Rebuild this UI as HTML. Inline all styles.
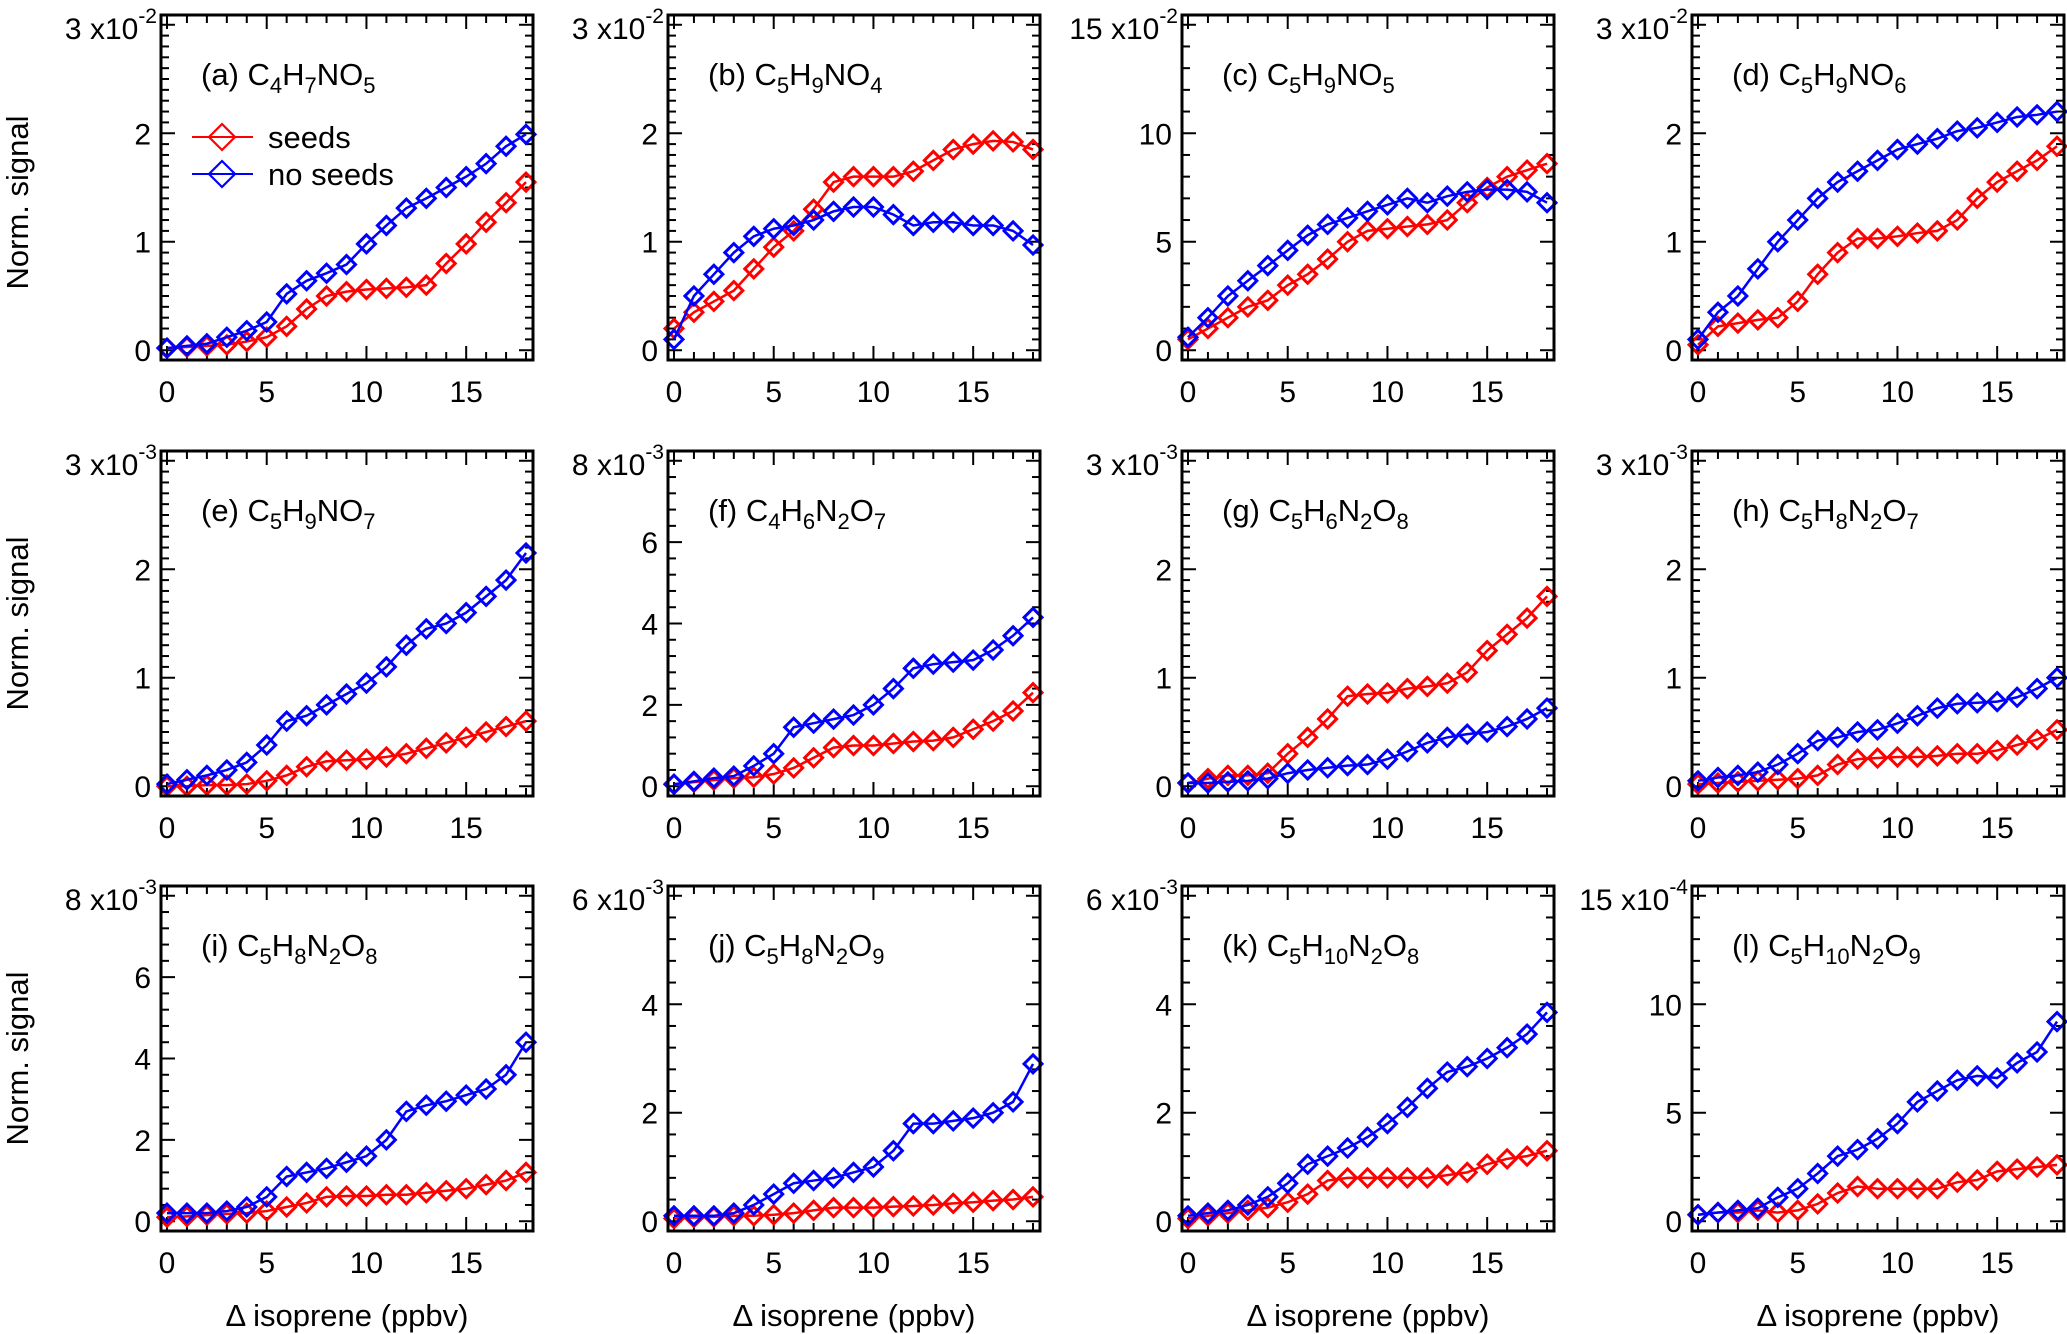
<!DOCTYPE html>
<html><head><meta charset="utf-8"><style>
body{margin:0;background:#fff;}
svg{display:block;font-family:"Liberation Sans",Arial,sans-serif;}
</style></head><body>
<svg id="fig" width="2067" height="1334" viewBox="0 0 2067 1334"></svg>
<script>
const xs = [0,1,2,3,4,5,6,7,8,9,10,11,12,13,14,15,16,17,18];
const xTicks = [0,5,10,15];
const titles = [
 ['a',[['C',''],['4','s'],['H',''],['7','s'],['NO',''],['5','s']]],
 ['b',[['C',''],['5','s'],['H',''],['9','s'],['NO',''],['4','s']]],
 ['c',[['C',''],['5','s'],['H',''],['9','s'],['NO',''],['5','s']]],
 ['d',[['C',''],['5','s'],['H',''],['9','s'],['NO',''],['6','s']]],
 ['e',[['C',''],['5','s'],['H',''],['9','s'],['NO',''],['7','s']]],
 ['f',[['C',''],['4','s'],['H',''],['6','s'],['N',''],['2','s'],['O',''],['7','s']]],
 ['g',[['C',''],['5','s'],['H',''],['6','s'],['N',''],['2','s'],['O',''],['8','s']]],
 ['h',[['C',''],['5','s'],['H',''],['8','s'],['N',''],['2','s'],['O',''],['7','s']]],
 ['i',[['C',''],['5','s'],['H',''],['8','s'],['N',''],['2','s'],['O',''],['8','s']]],
 ['j',[['C',''],['5','s'],['H',''],['8','s'],['N',''],['2','s'],['O',''],['9','s']]],
 ['k',[['C',''],['5','s'],['H',''],['10','s'],['N',''],['2','s'],['O',''],['8','s']]],
 ['l',[['C',''],['5','s'],['H',''],['10','s'],['N',''],['2','s'],['O',''],['9','s']]]
];
const yMax = [3,3,15,3, 3,8,3,3, 8,6,6,15];
const yExp = ['-2','-2','-2','-2','-3','-3','-3','-3','-3','-3','-3','-4'];
const yMajor = [1,1,5,1, 1,2,1,1, 2,2,2,5];
const seeds = [
 [0.02,0.03,0.04,0.05,0.08,0.12,0.22,0.38,0.5,0.54,0.56,0.57,0.58,0.6,0.8,0.98,1.18,1.36,1.55],
 [0.2,0.35,0.45,0.55,0.75,0.95,1.1,1.3,1.55,1.6,1.6,1.6,1.65,1.75,1.85,1.9,1.93,1.92,1.85],
 [0.5,1.0,1.5,2.0,2.3,3.0,3.5,4.2,5.0,5.5,5.6,5.7,5.8,6.0,6.8,7.5,8.0,8.3,8.6],
 [0.05,0.22,0.25,0.28,0.3,0.45,0.7,0.9,1.03,1.03,1.05,1.08,1.1,1.2,1.4,1.55,1.65,1.75,1.88],
 [0,0,0.01,0.01,0.02,0.05,0.1,0.18,0.23,0.24,0.25,0.27,0.3,0.35,0.4,0.45,0.5,0.55,0.6],
 [0.05,0.1,0.15,0.2,0.22,0.3,0.45,0.7,0.95,1.0,1.0,1.05,1.1,1.12,1.2,1.4,1.6,1.85,2.3],
 [0.03,0.07,0.1,0.1,0.12,0.3,0.45,0.62,0.83,0.85,0.86,0.9,0.92,0.95,1.05,1.25,1.4,1.55,1.75],
 [0.02,0.03,0.04,0.05,0.06,0.07,0.1,0.2,0.25,0.26,0.27,0.27,0.28,0.3,0.3,0.33,0.38,0.43,0.52],
 [0.1,0.12,0.15,0.18,0.2,0.25,0.35,0.45,0.6,0.62,0.62,0.65,0.65,0.7,0.75,0.8,0.9,1.0,1.2],
 [0.05,0.07,0.08,0.1,0.1,0.12,0.15,0.2,0.25,0.25,0.25,0.27,0.28,0.3,0.33,0.35,0.38,0.4,0.45],
 [0.05,0.1,0.15,0.2,0.25,0.35,0.5,0.75,0.8,0.8,0.8,0.8,0.8,0.85,0.9,1.05,1.15,1.2,1.3],
 [0.3,0.4,0.4,0.5,0.4,0.5,0.8,1.3,1.6,1.5,1.5,1.5,1.5,1.8,1.9,2.3,2.4,2.5,2.6]
];
const noSeeds = [
 [0.02,0.04,0.06,0.12,0.18,0.26,0.52,0.64,0.71,0.79,0.98,1.15,1.31,1.4,1.5,1.6,1.72,1.88,1.99],
 [0.1,0.5,0.7,0.9,1.05,1.12,1.15,1.2,1.28,1.32,1.32,1.25,1.15,1.18,1.18,1.15,1.15,1.1,0.97],
 [0.6,1.5,2.5,3.2,3.9,4.6,5.3,5.8,6.1,6.4,6.7,7.0,6.8,7.1,7.3,7.4,7.4,7.3,6.8],
 [0.1,0.35,0.5,0.75,1.0,1.2,1.4,1.55,1.65,1.75,1.85,1.9,1.95,2.02,2.05,2.1,2.15,2.17,2.2],
 [0.02,0.06,0.1,0.15,0.22,0.38,0.6,0.65,0.75,0.85,0.95,1.1,1.3,1.45,1.5,1.6,1.75,1.9,2.15],
 [0.05,0.12,0.2,0.25,0.5,0.8,1.45,1.55,1.65,1.75,2.0,2.4,2.9,3.0,3.05,3.1,3.35,3.7,4.15],
 [0.03,0.03,0.04,0.05,0.07,0.12,0.15,0.17,0.19,0.2,0.25,0.32,0.4,0.45,0.48,0.5,0.55,0.62,0.72],
 [0.05,0.08,0.1,0.13,0.2,0.3,0.42,0.45,0.5,0.52,0.58,0.65,0.72,0.76,0.77,0.78,0.82,0.9,1.0],
 [0.2,0.2,0.2,0.25,0.35,0.6,1.1,1.2,1.3,1.45,1.6,2.0,2.7,2.85,2.95,3.1,3.25,3.6,4.4],
 [0.1,0.1,0.1,0.15,0.3,0.5,0.7,0.75,0.8,0.9,1.0,1.3,1.8,1.8,1.85,1.9,2.0,2.2,2.9],
 [0.1,0.15,0.2,0.3,0.45,0.7,1.05,1.2,1.35,1.55,1.8,2.1,2.45,2.75,2.85,3.0,3.2,3.45,3.85],
 [0.3,0.4,0.5,0.6,1.1,1.5,2.2,3.0,3.3,3.8,4.5,5.5,6.0,6.5,6.7,6.6,7.3,7.8,9.2]
];
const colLeft = [161,668,1182,1692];
const rowTop = [15,451,886];
const PW = 372, PH = 345;
const NS = 'http://www.w3.org/2000/svg';
const svg = document.getElementById('fig');
function mk(tag, attrs, parent){
  const e = document.createElementNS(NS, tag);
  for (const k in attrs) e.setAttribute(k, attrs[k]);
  (parent||svg).appendChild(e);
  return e;
}
function diamond(g, x, y, r, color, w){
  return mk('path',{d:`M${x-r},${y}L${x},${y-r}L${x+r},${y}L${x},${y+r}Z`,fill:'none',stroke:color,'stroke-width':w||2.2},g);
}
for (let i=0;i<12;i++){
  const L = colLeft[i%4], T = rowTop[Math.floor(i/4)];
  const M = yMax[i];
  const g = mk('g',{});
  
  
  const xMin=-0.3, xMaxv=18.35, yLo=-0.03*M, yHi=1.03*M;
  const sx = v => L + (v-xMin)/(xMaxv-xMin)*PW;
  const sy = v => T + PH - (v-yLo)/(yHi-yLo)*PH;
  const tk = mk('g',{stroke:'#000','stroke-width':2},g);
  for (let v=0; v<=18; v++){
    const maj = v%5===0, len = maj?14:8;
    mk('line',{x1:sx(v),y1:T+PH,x2:sx(v),y2:T+PH-len},tk);
    mk('line',{x1:sx(v),y1:T,x2:sx(v),y2:T+len},tk);
  }
  const minor = yMajor[i]/ (M===3?10:5);
  for (let k=0; k*minor<=M+1e-9; k++){
    const v=k*minor, maj=Math.abs(v/yMajor[i]-Math.round(v/yMajor[i]))<1e-6, len=maj?14:8;
    mk('line',{x1:L,y1:sy(v),x2:L+len,y2:sy(v)},tk);
    mk('line',{x1:L+PW,y1:sy(v),x2:L+PW-len,y2:sy(v)},tk);
  }
  [[seeds[i],'#ff0000','seeds'],[noSeeds[i],'#0000ff','no-seeds']].forEach(([ys,col,nm])=>{
    const sg = mk('g',{},g);
    
    
    mk('polyline',{points:xs.map((x,j)=>sx(x)+','+sy(ys[j])).join(' '),fill:'none',stroke:col,'stroke-width':2.5},sg);
    xs.forEach((x,j)=>{ const d = diamond(sg, sx(x), sy(ys[j]), 9, col, 3);
      
       });
  });
  mk('rect',{x:L,y:T,width:PW,height:PH,fill:'none',stroke:'#000','stroke-width':3},g);
  for (let v=0; v<M-1e-9; v+=yMajor[i]){
    const t = mk('text',{x:L-10,y:sy(v)+11,'text-anchor':'end','font-size':30},g);
    t.textContent = v;
    
    
  }
  const yt = mk('text',{x:L-4,y:T+24,'text-anchor':'end','font-size':30},g);
  
  
  const t1 = mk('tspan',{},yt); t1.textContent = M+' x10';
  const t2 = mk('tspan',{'font-size':21,dy:-16},yt); t2.textContent = yExp[i];
  xTicks.forEach(v=>{
    const t = mk('text',{x:sx(v),y:T+PH+42,'text-anchor':'middle','font-size':30},g);
    t.textContent = v;
    
    
  });
  const tt = mk('text',{x:L+40,y:T+70,'font-size':31},g);
  
  
  const p0 = mk('tspan',{},tt); p0.textContent='('+titles[i][0]+') ';
  let sub=false;
  titles[i][1].forEach(([s,k])=>{
    const ts = mk('tspan',{},tt);
    if (k==='s'){ ts.setAttribute('font-size',22); ts.setAttribute('dy', sub?0:8); sub=true; }
    else { ts.setAttribute('dy', sub?-8:0); sub=false; }
    ts.textContent = s;
  });
  if (Math.floor(i/4)===2){
    const xl = mk('text',{x:L+PW/2,y:1326,'text-anchor':'middle','font-size':31},g);
    xl.textContent = 'Δ isoprene (ppbv)';
    
    
  }
}
rowTop.forEach((T,r)=>{
  const t = mk('text',{x:0,y:0,'text-anchor':'middle','font-size':31,transform:`translate(28,${T+PH/2+(r===0?15:0)}) rotate(-90)`});
  t.textContent = 'Norm. signal';
  
  
});
const lg = mk('g',{});


[['seeds','#ff0000',137],['no seeds','#0000ff',174]].forEach(([lab,col,y])=>{
  const e = mk('g',{},lg);
  
  
  mk('line',{x1:192,y1:y,x2:253,y2:y,stroke:col,'stroke-width':2},e);
  diamond(e,222,y,13,col);
  const t = mk('text',{x:268,y:y+11,'font-size':31},e);
  t.textContent = lab;
});
</script>
</body></html>
